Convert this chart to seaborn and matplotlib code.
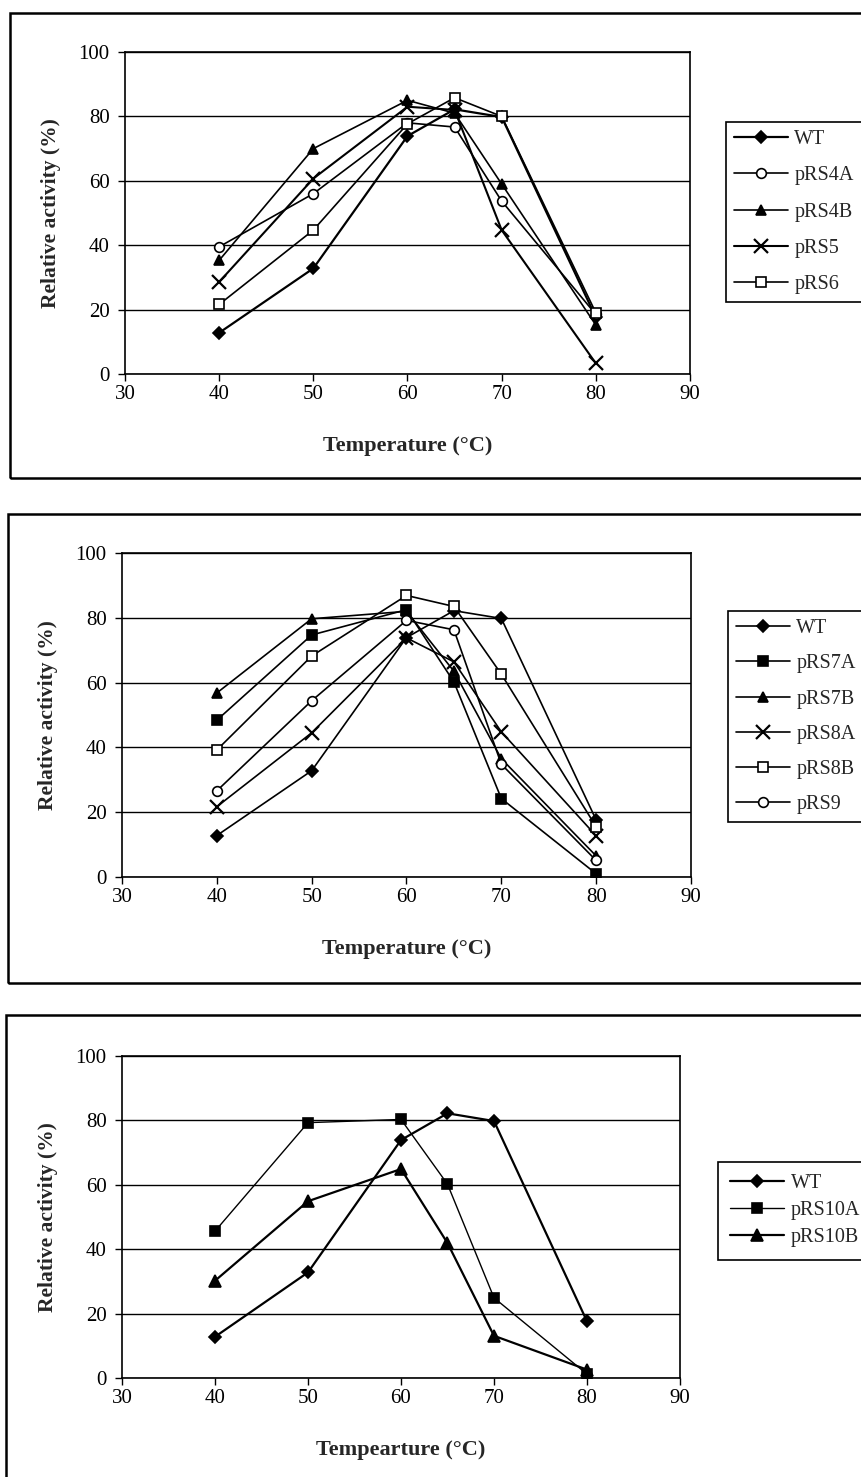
import matplotlib
matplotlib.use("Agg")
import matplotlib.pyplot as plt
from matplotlib.patches import Rectangle
import seaborn as sns

# ---------------- data ----------------
temps = [40, 50, 60, 65, 70, 80]

wt = [12.8, 32.8, 73.9, 82.2, 79.8, 17.6]
p4a = [39.5, 56.0, 78.0, 76.7, 53.7, 18.5]
p4b = [35.3, 70.0, 85.0, 81.0, 59.0, 15.2]
p5 = [28.6, 60.7, 83.0, 82.0, 44.7, 3.3]
p6 = [21.6, 44.7, 77.7, 85.8, 80.0, 19.0]

p7a = [48.4, 74.7, 82.5, 60.2, 24.2, 1.0]
p7b = [56.8, 79.7, 82.0, 63.5, 36.5, 6.5]
p8a = [21.7, 44.5, 73.8, 66.4, 44.8, 12.7]
p8b = [39.2, 68.2, 86.9, 83.5, 62.6, 15.5]
p9 = [26.6, 54.4, 79.2, 76.3, 34.8, 5.1]

p10a = [45.6, 79.3, 80.3, 60.2, 24.9, 1.2]
p10b = [30.2, 54.9, 64.9, 41.9, 13.1, 2.6]

xticks = [30, 40, 50, 60, 70, 80, 90]
yticks = [0, 20, 40, 60, 80, 100]
ylabel = "Relative activity (%)"
xlabels = ["Temperature (\u00b0C)", "Temperature (\u00b0C)", "Tempearture (\u00b0C)"]

# ---------------- style ----------------
sns.set_theme(style="white")
plt.rcParams["font.family"] = ["Liberation Serif", "DejaVu Serif"]

W, H = 862, 1477
fig = plt.figure(figsize=(W / 100, H / 100), dpi=100)


def fx(px):
    return px / W


def fy(py):
    return 1 - py / H


def add_frame(x0, y0, x1, y1):
    r = Rectangle((fx(x0), fy(y1)), fx(x1) - fx(x0), fy(y0) - fy(y1),
                  transform=fig.transFigure, fill=False, edgecolor="black",
                  linewidth=1.8, clip_on=False)
    fig.add_artist(r)


def make_axes(left, right, top, bottom):
    return fig.add_axes([fx(left), fy(bottom), fx(right) - fx(left), fy(top) - fy(bottom)])


def style_axes(ax, xlabel):
    ax.set_xlim(30, 90)
    ax.set_ylim(0, 100)
    ax.set_xticks(xticks)
    ax.set_yticks(yticks)
    ax.set_xticklabels([str(t) for t in xticks], fontsize=15)
    ax.set_yticklabels([str(t) for t in yticks], fontsize=15)
    ax.yaxis.grid(True, color="black", linewidth=1.0)
    ax.xaxis.grid(False)
    ax.set_axisbelow(True)
    for s in ax.spines.values():
        s.set_color("black")
        s.set_linewidth(1.2)
        s.set_visible(True)
    ax.tick_params(axis="both", direction="out", length=5, width=1, color="black",
                   labelcolor="black", bottom=True, left=True)
    ax.tick_params(axis="x", pad=3)
    ax.tick_params(axis="y", pad=6)
    ax.set_xlabel(xlabel, fontsize=16, fontweight="bold", labelpad=23)
    ax.set_ylabel(ylabel, fontsize=15.5, fontweight="bold", labelpad=13)
    ax.set_facecolor("white")


def series(ax, vals, label, marker, filled, ms=7, lw=1.2):
    kw = dict(color="black", linewidth=lw, marker=marker, markersize=ms,
              markeredgecolor="black")
    if marker == "x":
        kw["markeredgewidth"] = 1.6
        kw["markersize"] = ms + 3
    else:
        kw["markerfacecolor"] = "black" if filled else "white"
        kw["markeredgewidth"] = 1.2
    sns.lineplot(x=temps, y=vals, ax=ax, label=label, **kw)


def legend(ax, left_px, top_px, spacing, fsize=14.5, pad=0.4):
    ax.legend(loc="upper left",
              bbox_to_anchor=(fx(left_px), fy(top_px)),
              bbox_transform=fig.transFigure,
              frameon=True, fancybox=False, edgecolor="black", framealpha=1,
              fontsize=fsize, handlelength=2.7, handletextpad=0.3,
              labelspacing=spacing, borderpad=pad, borderaxespad=0)
    ax.get_legend().get_frame().set_linewidth(1.2)


# ---------------- panel 1 ----------------
add_frame(10, 13, 875, 478)
ax1 = make_axes(125, 690, 52, 374)
series(ax1, wt, "WT", "D", True, ms=6, lw=1.6)
series(ax1, p4a, "pRS4A", "o", False)
series(ax1, p4b, "pRS4B", "^", True)
series(ax1, p5, "pRS5", "x", False, lw=1.5)
series(ax1, p6, "pRS6", "s", False)
style_axes(ax1, xlabels[0])
legend(ax1, 726, 122, 0.85)

# ---------------- panel 2 ----------------
add_frame(8, 514, 875, 983)
ax2 = make_axes(122, 691, 553, 877)
series(ax2, wt, "WT", "D", True, ms=6)
series(ax2, p7a, "pRS7A", "s", True)
series(ax2, p7b, "pRS7B", "^", True)
series(ax2, p8a, "pRS8A", "x", False)
series(ax2, p8b, "pRS8B", "s", False)
series(ax2, p9, "pRS9", "o", False)
style_axes(ax2, xlabels[1])
legend(ax2, 728, 611, 0.8)

# ---------------- panel 3 ----------------
add_frame(6, 1015, 875, 1500)
ax3 = make_axes(122, 680, 1056, 1378)
series(ax3, wt, "WT", "D", True, ms=6, lw=1.6)
series(ax3, p10a, "pRS10A", "s", True, lw=1.0)
series(ax3, p10b, "pRS10B", "^", True, ms=8, lw=1.6)
style_axes(ax3, xlabels[2])
legend(ax3, 718, 1162, 0.4, pad=0.6)

fig.savefig("out.png", dpi=100, facecolor="white")
